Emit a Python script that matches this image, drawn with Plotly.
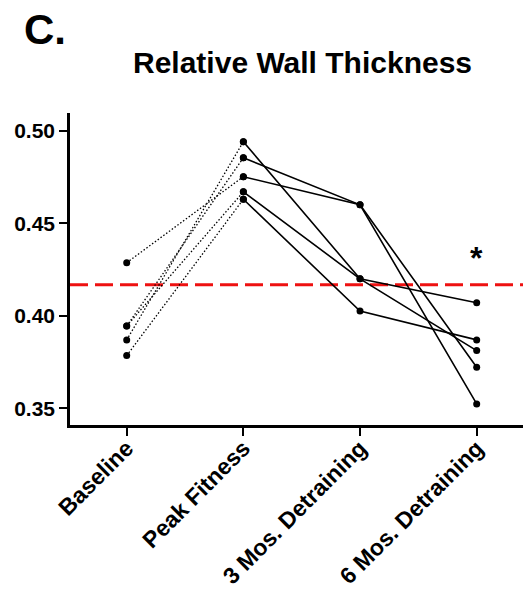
import plotly.graph_objects as go

categories = ["Baseline", "Peak Fitness", "3 Mos. Detraining", "6 Mos. Detraining"]
baseline = [0.4287, 0.3870, 0.3945, 0.3945, 0.3785]
peak = [0.4752, 0.4941, 0.4854, 0.4670, 0.4630]
mo3 = [0.4600, 0.4200, 0.4600, 0.4200, 0.4026]
mo6 = [0.3722, 0.4071, 0.3524, 0.3812, 0.3870]
reference_value = 0.4168
yticks = [0.35, 0.40, 0.45, 0.50]
ytick_labels = ["0.35", "0.40", "0.45", "0.50"]

FONT = "Liberation Sans, Arial, Helvetica, sans-serif"
xpos = list(range(len(categories)))

fig = go.Figure()
for i in range(len(baseline)):
    fig.add_trace(go.Scatter(
        x=xpos[0:2], y=[baseline[i], peak[i]], mode="lines+markers",
        line=dict(color="black", width=1.3, dash="1.5px,2px"),
        marker=dict(color="black", size=7), showlegend=False, hoverinfo="skip"))
    fig.add_trace(go.Scatter(
        x=xpos[1:4], y=[peak[i], mo3[i], mo6[i]], mode="lines+markers",
        line=dict(color="black", width=1.6),
        marker=dict(color="black", size=7), showlegend=False, hoverinfo="skip"))

fig.add_shape(type="line", xref="paper", x0=0, x1=1, yref="y",
              y0=reference_value, y1=reference_value,
              line=dict(color="#ee1111", width=3, dash="18px,7px"), layer="below")

fig.add_annotation(x=3, y=0.4315, xref="x", yref="y", text="*", showarrow=False,
                   font=dict(family=FONT, size=32, color="black", weight="bold"),
                   xanchor="center", yanchor="middle")

W, H = 523, 591
L, R, T, B = 70, 0, 113, 166
pw, ph = W - L - R, H - T - B

def px_to_paper(px, py):
    return (px - L) / pw, (H - py - B) / ph

cx, cy = px_to_paper(22, 4)
fig.add_annotation(x=cx, y=cy, xref="paper", yref="paper", text="C.",
                   xanchor="left", yanchor="top", showarrow=False,
                   font=dict(family=FONT, size=42, color="black", weight="bold"))
tx, ty = px_to_paper(302, 44)
fig.add_annotation(x=tx, y=ty, xref="paper", yref="paper", text="Relative Wall Thickness",
                   xanchor="center", yanchor="top", showarrow=False,
                   font=dict(family=FONT, size=30, color="black", weight="bold"))

fig.update_layout(
    width=W, height=H, margin=dict(l=L, r=R, t=T, b=B, autoexpand=False),
    plot_bgcolor="white", paper_bgcolor="white",
    font=dict(family=FONT, color="black"),
    xaxis=dict(range=[-0.486, 3.397], tickvals=xpos, ticktext=categories,
               tickangle=-45, showgrid=False, zeroline=False, automargin=False,
               showline=True, linecolor="black", linewidth=2.5,
               ticks="outside", ticklen=8, tickwidth=2, tickcolor="black",
               ticklabelstandoff=-10,
               tickfont=dict(family=FONT, size=23, color="black", weight="bold")),
    yaxis=dict(range=[0.341, 0.5096], tickvals=yticks, ticktext=ytick_labels,
               showgrid=False, zeroline=False, automargin=False,
               showline=True, linecolor="black", linewidth=2.5,
               ticks="outside", ticklen=8, tickwidth=2, tickcolor="black",
               tickfont=dict(family=FONT, size=21, color="black", weight="bold")),
)

fig.write_html("out.html", config={"displayModeBar": False},
               post_script="document.body.style.margin='0';document.body.style.overflow='hidden';")
